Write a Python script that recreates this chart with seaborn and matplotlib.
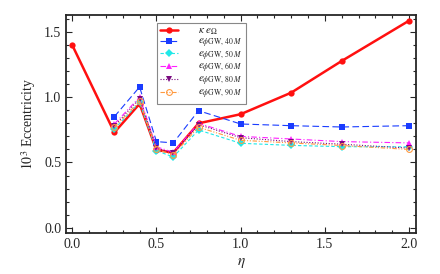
import numpy as np
import pandas as pd
import matplotlib
matplotlib.use("Agg")
import matplotlib.pyplot as plt
import seaborn as sns
from matplotlib.ticker import MultipleLocator

# data
eta = [0.0, 0.25, 0.4, 0.5, 0.6, 0.75, 1.0, 1.3, 1.6, 2.0]
eta_gw = [0.25, 0.4, 0.5, 0.6, 0.75, 1.0, 1.3, 1.6, 2.0]

kappa_e_omega = [1.40, 0.73, 0.95, 0.596, 0.575, 0.80, 0.87, 1.035, 1.278, 1.587]
e_gw_40 = [0.851, 1.079, 0.66, 0.65, 0.897, 0.795, 0.782, 0.772, 0.782]
e_gw_50 = [0.757, 0.961, 0.59, 0.542, 0.749, 0.647, 0.631, 0.621, 0.62]
e_gw_60 = [0.795, 1.00, 0.62, 0.578, 0.80, 0.70, 0.68, 0.66, 0.65]
e_gw_80 = [0.78, 0.99, 0.61, 0.57, 0.79, 0.69, 0.66, 0.64, 0.61]
e_gw_90 = [0.77, 0.97, 0.60, 0.56, 0.77, 0.67, 0.65, 0.63, 0.60]

labels = [r"$\kappa\ e_{\Omega}$",
          r"$e_{\phi\mathrm{GW},\,40\,M}$",
          r"$e_{\phi\mathrm{GW},\,50\,M}$",
          r"$e_{\phi\mathrm{GW},\,60\,M}$",
          r"$e_{\phi\mathrm{GW},\,80\,M}$",
          r"$e_{\phi\mathrm{GW},\,90\,M}$"]

sns.set_style("ticks")
plt.rcParams["font.family"] = ["Liberation Serif", "DejaVu Serif"]
plt.rcParams["mathtext.fontset"] = "stix"

fig = plt.figure(figsize=(4.4, 2.74), dpi=100)
ax = fig.add_axes([0.15, 0.15, 0.795, 0.795])

# red reference curve
sns.lineplot(x=eta, y=kappa_e_omega, ax=ax, color="#ff1010", lw=1.8,
             marker="o", markersize=4.5, markeredgewidth=0, label=labels[0])

styles = [
    (e_gw_40, "#1a3cff", (0, (6, 3)), "s", 4.2, True),
    (e_gw_50, "#20e8e8", (0, (3, 2)), "D", 3.6, True),
    (e_gw_60, "#ff20ff", (0, (5, 2, 1, 2)), "^", 4.2, True),
    (e_gw_80, "#7a0a80", (0, (1, 1.5)), "v", 4.2, True),
    (e_gw_90, "#ff9a40", (0, (4, 1.5, 1, 1.5, 1, 1.5)), "o", 4.2, False),
]
for (vals, col, ls, mk, ms, filled), lab in zip(styles, labels[1:]):
    sns.lineplot(x=eta_gw, y=vals, ax=ax, color=col, lw=0.8, linestyle=ls,
                 marker=mk, markersize=ms, markeredgewidth=0.8 if not filled else 0,
                 markerfacecolor=col if filled else "none", markeredgecolor=col,
                 label=lab)

ax.set_xlim(-0.037, 2.04)
ax.set_ylim(-0.04, 1.63)
ax.xaxis.set_major_locator(MultipleLocator(0.5))
ax.xaxis.set_minor_locator(MultipleLocator(0.1))
ax.yaxis.set_major_locator(MultipleLocator(0.5))
ax.yaxis.set_minor_locator(MultipleLocator(0.1))
ax.xaxis.set_major_formatter(matplotlib.ticker.FormatStrFormatter("%.1f"))
ax.yaxis.set_major_formatter(matplotlib.ticker.FormatStrFormatter("%.1f"))
ax.tick_params(which="both", direction="in", top=True, right=True,
               labelsize=10, width=0.8)
ax.tick_params(which="major", length=4)
ax.tick_params(which="minor", length=2)
for sp in ax.spines.values():
    sp.set_linewidth(1.3)

ax.set_xlabel(r"$\eta$", fontsize=11)
ax.set_ylabel(r"$10^3$ Eccentricity", fontsize=10)

leg = ax.legend(loc="upper left", bbox_to_anchor=(0.26, 0.965), fontsize=8,
                handlelength=1.6, handletextpad=1.8, labelspacing=-0.05,
                borderpad=0.3, borderaxespad=0,
                fancybox=False, framealpha=1, edgecolor="#888888")
leg.get_frame().set_linewidth(0.8)

fig.savefig("out.png", dpi=100)
